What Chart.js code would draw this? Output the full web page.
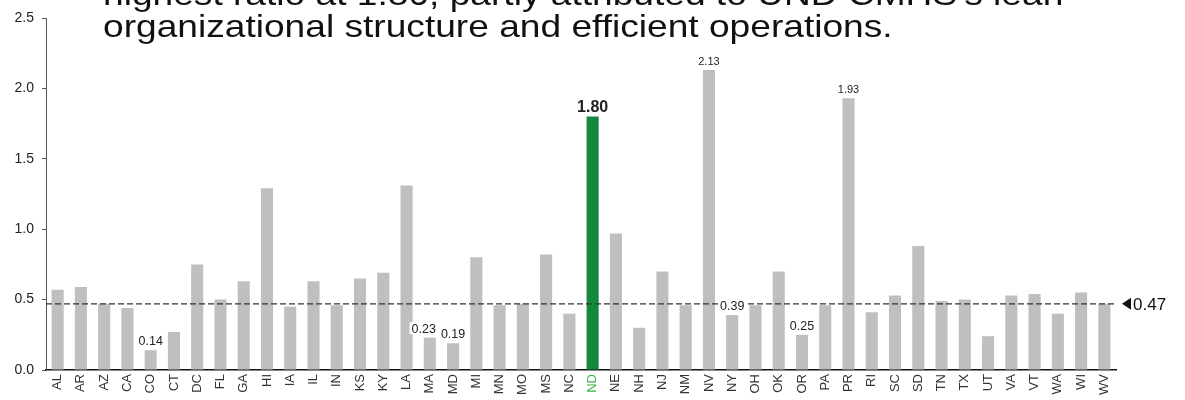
<!DOCTYPE html>
<html>
<head>
<meta charset="utf-8">
<script src="https://cdn.jsdelivr.net/npm/chart.js@4.4.1/dist/chart.umd.min.js"></script>
<style>
html,body{margin:0;padding:0;background:#fff;}
#wrap{position:relative;width:1185px;height:400px;overflow:hidden;}
#title{position:absolute;left:103px;top:-22px;font-family:"Liberation Sans",Arial,sans-serif;font-size:32px;line-height:32px;color:#111;white-space:nowrap;transform:scaleX(1.16);transform-origin:0 0;}
canvas{position:absolute;left:0;top:0;}
</style>
</head>
<body>
<div id="wrap">
<canvas id="ratioChart" width="1185" height="400"></canvas>
<div id="title">highest ratio at 1.80, partly attributed to UND CMHS's lean<br>organizational structure and efficient operations.</div>
</div>
<script>
const states = ["AL","AR","AZ","CA","CO","CT","DC","FL","GA","HI","IA","IL","IN","KS","KY","LA","MA","MD","MI","MN","MO","MS","NC","ND","NE","NH","NJ","NM","NV","NY","OH","OK","OR","PA","PR","RI","SC","SD","TN","TX","UT","VA","VT","WA","WI","WV"];
const ratios = [0.57,0.59,0.47,0.44,0.14,0.27,0.75,0.50,0.63,1.29,0.45,0.63,0.46,0.65,0.69,1.31,0.23,0.19,0.80,0.46,0.47,0.82,0.40,1.80,0.97,0.30,0.70,0.46,2.13,0.39,0.46,0.70,0.25,0.46,1.93,0.41,0.53,0.88,0.49,0.50,0.24,0.53,0.54,0.40,0.55,0.47];
const highlightState = "ND";
const labelledStates = ["CO","MA","MD","ND","NV","NY","OR","PR"];
const nationalAverage = 0.47;
const yMin = 0, yMax = 2.5, yStep = 0.5;

const FONT = '"Liberation Sans", Arial, sans-serif';
const GRAY = "#bfbfbf";
const GREEN = "#14893c";

// dashed average line with the marker on the right, then the value labels
const overlayPlugin = {
  id: "overlay",
  afterDatasetsDraw(chart) {
    const ctx = chart.ctx;
    const area = chart.chartArea;
    const y = chart.scales.y.getPixelForValue(nationalAverage);

    ctx.save();
    ctx.strokeStyle = "#333";
    ctx.lineWidth = 1.2;
    ctx.setLineDash([6, 3]);
    ctx.beginPath();
    ctx.moveTo(area.left, y);
    ctx.lineTo(area.right, y);
    ctx.stroke();
    ctx.setLineDash([]);

    ctx.fillStyle = "#111";
    ctx.beginPath();
    ctx.moveTo(area.right + 6, y);
    ctx.lineTo(area.right + 15, y - 6);
    ctx.lineTo(area.right + 15, y + 6);
    ctx.closePath();
    ctx.fill();
    ctx.font = "17px " + FONT;
    ctx.textBaseline = "middle";
    ctx.textAlign = "left";
    ctx.fillText(nationalAverage.toFixed(2), area.right + 17, y + 1);

    // work out the label boxes first, nudge a label left when it runs into the next one
    const meta = chart.getDatasetMeta(0);
    const boxes = labelledStates.map(s => {
      const i = states.indexOf(s);
      const bar = meta.data[i];
      const v = ratios[i];
      let size = v > 1.5 ? 11 : 12.5;
      let weight = "";
      if (s === highlightState) { size = 16; weight = "bold "; }
      const font = weight + size + "px " + FONT;
      ctx.font = font;
      const txt = v.toFixed(2);
      const w = ctx.measureText(txt).width;
      return { txt, font, size, w, cx: bar.x, base: bar.y - 5 };
    });
    for (let k = boxes.length - 2; k >= 0; k--) {
      const a = boxes[k], b = boxes[k + 1];
      const overlap = (a.cx + a.w / 2 + 2) - (b.cx - b.w / 2 - 2);
      if (overlap > 0 && Math.abs(a.base - b.base) < a.size + 2) a.cx -= overlap + 1;
    }
    boxes.forEach(b => {
      ctx.font = b.font;
      ctx.fillStyle = "#fff";
      ctx.fillRect(b.cx - b.w / 2 - 2, b.base - b.size * 0.82, b.w + 4, b.size * 0.95);
      ctx.fillStyle = "#222";
      ctx.textAlign = "center";
      ctx.textBaseline = "alphabetic";
      ctx.fillText(b.txt, b.cx, b.base);
    });
    ctx.restore();
  }
};

new Chart("ratioChart", {
  type: "bar",
  data: {
    labels: states,
    datasets: [{
      data: ratios,
      backgroundColor: states.map(s => s === highlightState ? GREEN : GRAY),
      borderWidth: 0,
      categoryPercentage: 1,
      barPercentage: 0.52
    }]
  },
  options: {
    responsive: false,
    animation: false,
    layout: { padding: { top: 18, right: 69, left: 0, bottom: 0 } },
    plugins: {
      legend: { display: false },
      tooltip: { enabled: false },
      title: { display: false }
    },
    scales: {
      x: {
        grid: { display: false, drawTicks: false },
        border: { display: true, color: "#111", width: 1.5 },
        ticks: {
          autoSkip: false,
          minRotation: 90,
          maxRotation: 90,
          padding: 4,
          font: { family: FONT, size: 13 },
          color: c => states[c.index] === highlightState ? "#3cb54a" : "#333"
        },
        afterFit: s => { s.height = 30; }
      },
      y: {
        min: yMin,
        max: yMax,
        grid: { display: true, drawOnChartArea: false, drawTicks: true, tickLength: 4, color: "#555" },
        border: { display: true, color: "#555", width: 1 },
        ticks: {
          stepSize: yStep,
          padding: 8,
          font: { family: FONT, size: 14 },
          color: "#222",
          callback: v => v.toFixed(1)
        },
        afterFit: s => { s.width = 46; }
      }
    }
  },
  plugins: [overlayPlugin]
});
</script>
</body>
</html>
